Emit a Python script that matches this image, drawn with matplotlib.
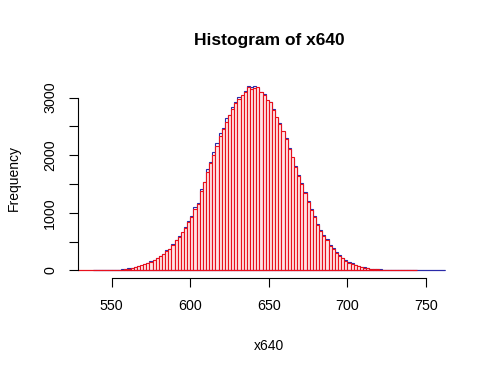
import numpy as np
import matplotlib
matplotlib.use("Agg")
import matplotlib.pyplot as plt

plt.rcParams['font.family'] = ['Liberation Sans', 'DejaVu Sans']

# Red histogram: bins of width 2, centres 527..743
red_centers = list(range(527, 745, 2))
red_counts = [0]*13 + [
    3, 8, 12, 22, 30, 40, 52, 68, 85, 108,
    128, 152, 178, 210, 248, 285, 330, 375, 440, 520,
    575, 660, 730, 840, 930, 1060, 1150, 1370, 1530, 1700,
    1870, 2010, 2160, 2330, 2460, 2580, 2700, 2810, 2900, 2980,
    3040, 3090, 3180, 3150, 3170, 3180, 3090, 3040, 2960, 2930,
    2780, 2660, 2540, 2420, 2280, 2100, 1960, 1800, 1640, 1500,
    1350, 1190, 1040, 930, 790, 680, 600, 530, 420, 370,
    300, 250, 205, 170, 135, 115, 90, 72, 60, 45,
    38, 28, 22, 15, 12, 9, 6, 4, 3, 2,
    1, 0, 0, 0, 0, 0]

# Blue histogram: bins of width 2, centres 539..761
blue_centers = list(range(539, 763, 2))
blue_counts = [0]*7 + [
    2, 6, 14, 20, 33, 38, 55, 70, 82, 112,
    125, 160, 185, 205, 255, 290, 345, 370, 450, 530,
    600, 650, 760, 860, 940, 1100, 1170, 1420, 1540, 1760,
    1880, 2050, 2210, 2380, 2470, 2650, 2690, 2840, 2920, 3010,
    3030, 3110, 3200, 3190, 3200, 3170, 3100, 3060, 2940, 2920,
    2800, 2650, 2560, 2400, 2300, 2120, 1940, 1820, 1650, 1520,
    1360, 1200, 1060, 940, 810, 700, 610, 540, 440, 385,
    320, 262, 220, 180, 150, 120, 100, 80, 64, 52,
    40, 30, 26, 18, 14, 10, 8, 5, 3, 2,
    1, 1] + [0]*13

x_ticks = [550, 600, 650, 700, 750]
y_ticks = [0, 500, 1000, 1500, 2000, 2500, 3000]
y_ticklabels = ['0', '', '1000', '', '2000', '', '3000']

BIN_W = 2
fig = plt.figure(figsize=(5, 3.75), dpi=100)
ax = fig.add_axes([0.156, 0.2595, 0.764, 0.5325])

blue_col = '#2a2aa8'
red_col = '#e8101c'
ax.bar(blue_centers, blue_counts, width=BIN_W, facecolor='none',
       edgecolor=blue_col, linewidth=0.8)
ax.hlines(0, blue_centers[0] - 1, blue_centers[-1] + 1, color=blue_col, lw=0.8)
ax.bar(red_centers, red_counts, width=BIN_W, facecolor='#ffe4e4',
       edgecolor=red_col, linewidth=0.8)
ax.hlines(0, red_centers[0] - 1, red_centers[-1] + 1, color=red_col, lw=0.8)

ax.set_xlim(528.6, 771.6)
ax.set_ylim(-128.5, 3340)

for s in ['top', 'right']:
    ax.spines[s].set_visible(False)
ax.spines['left'].set_bounds(0, 3000)
ax.spines['bottom'].set_bounds(550, 750)
ax.spines['left'].set_linewidth(0.8)
ax.spines['bottom'].set_linewidth(0.8)

ax.set_xticks(x_ticks)
ax.set_xticklabels([str(v) for v in x_ticks])
ax.set_yticks(y_ticks)
ax.set_yticklabels(y_ticklabels, rotation=90, va='center')
ax.tick_params(axis='both', direction='out', length=6.5, width=0.8,
               labelsize=10.3, pad=8.5)

fig.text(0.538, 0.893, 'Histogram of x640', ha='center', va='center',
         fontsize=12.5, fontweight='bold')
fig.text(0.538, 0.078, 'x640', ha='center', va='center', fontsize=10)
fig.text(0.028, 0.525, 'Frequency', ha='center', va='center',
         fontsize=10, rotation=90)

fig.savefig('out.png', dpi=100)
